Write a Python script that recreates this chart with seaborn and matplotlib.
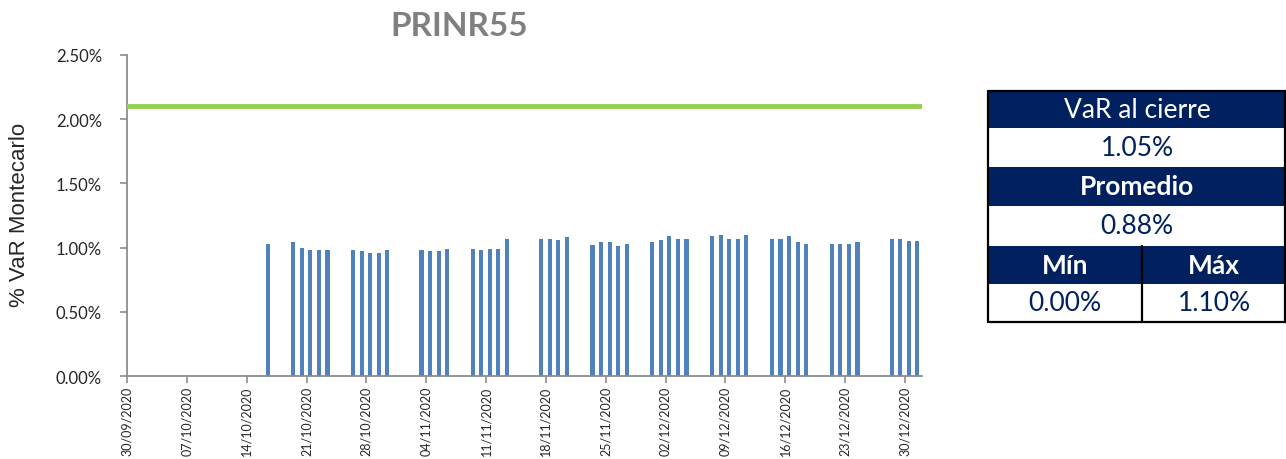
import matplotlib
matplotlib.use("Agg")
import matplotlib.pyplot as plt
from matplotlib.patches import Rectangle
from matplotlib.lines import Line2D
import matplotlib.dates as mdates
import seaborn as sns
import pandas as pd
from datetime import datetime

# ---------------- data ----------------
dates = [
    "30/09/2020", "01/10/2020", "02/10/2020", "05/10/2020", "06/10/2020", "07/10/2020",
    "08/10/2020", "09/10/2020", "12/10/2020", "13/10/2020", "14/10/2020", "15/10/2020",
    "16/10/2020",
    "19/10/2020", "20/10/2020", "21/10/2020", "22/10/2020", "23/10/2020",
    "26/10/2020", "27/10/2020", "28/10/2020", "29/10/2020", "30/10/2020",
    "03/11/2020", "04/11/2020", "05/11/2020", "06/11/2020",
    "09/11/2020", "10/11/2020", "11/11/2020", "12/11/2020", "13/11/2020",
    "17/11/2020", "18/11/2020", "19/11/2020", "20/11/2020",
    "23/11/2020", "24/11/2020", "25/11/2020", "26/11/2020", "27/11/2020",
    "30/11/2020", "01/12/2020", "02/12/2020", "03/12/2020", "04/12/2020",
    "07/12/2020", "08/12/2020", "09/12/2020", "10/12/2020", "11/12/2020",
    "14/12/2020", "15/12/2020", "16/12/2020", "17/12/2020", "18/12/2020",
    "21/12/2020", "22/12/2020", "23/12/2020", "24/12/2020",
    "28/12/2020", "29/12/2020", "30/12/2020", "31/12/2020",
]
var_pct = [
    0, 0, 0, 0, 0, 0,
    0, 0, 0, 0, 0, 0,
    1.03,
    1.04, 1.00, 0.98, 0.98, 0.98,
    0.98, 0.97, 0.96, 0.96, 0.98,
    0.98, 0.97, 0.97, 0.99,
    0.99, 0.98, 0.99, 0.99, 1.07,
    1.07, 1.07, 1.06, 1.08,
    1.02, 1.04, 1.04, 1.01, 1.03,
    1.04, 1.06, 1.09, 1.07, 1.07,
    1.09, 1.10, 1.07, 1.07, 1.10,
    1.07, 1.07, 1.09, 1.04, 1.03,
    1.03, 1.03, 1.03, 1.04,
    1.07, 1.07, 1.05, 1.05,
]
limit_pct = 2.10
x_tick_labels = [
    "30/09/2020", "07/10/2020", "14/10/2020", "21/10/2020", "28/10/2020",
    "04/11/2020", "11/11/2020", "18/11/2020", "25/11/2020", "02/12/2020",
    "09/12/2020", "16/12/2020", "23/12/2020", "30/12/2020",
]
x_end = "01/01/2021"
y_ticks = [0.0, 0.5, 1.0, 1.5, 2.0, 2.5]
title = "PRINR55"
y_label = "% VaR Montecarlo"

tbl_header_close = "VaR al cierre"
tbl_value_close = "1.05%"
tbl_header_avg = "Promedio"
tbl_value_avg = "0.88%"
tbl_header_min = "Mín"
tbl_header_max = "Máx"
tbl_value_min = "0.00%"
tbl_value_max = "1.10%"

# ---------------- style ----------------
W, H = 1286, 460
sns.set_theme(style="white")
plt.rcParams["font.family"] = ["Lato", "DejaVu Sans"]

BAR_COLOR = "#4F81BD"
LIMIT_COLOR = "#92D050"
NAVY = "#002060"
AXIS_GRAY = "#8C8C8C"
TEXT_DARK = "#262626"
BAR_OFFSET = 0.45  # bars sit between tick marks (date-axis style)


def to_num(s):
    return mdates.date2num(datetime.strptime(s, "%d/%m/%Y"))


df = pd.DataFrame({"x": [to_num(d) + BAR_OFFSET for d in dates], "var": var_pct})

fig = plt.figure(figsize=(W / 100, H / 100), dpi=100)
ax = fig.add_axes([127 / W, 1 - 377 / H, (922 - 127) / W, (377 - 56) / H])

sns.barplot(data=df, x="x", y="var", native_scale=True, width=0.48,
            color=BAR_COLOR, saturation=1, errorbar=None, linewidth=0, ax=ax)
ax.axhline(limit_pct, color=LIMIT_COLOR, lw=3.5, zorder=3)

ax.set_xlim(to_num(x_tick_labels[0]), to_num(x_end))
ax.set_ylim(y_ticks[0], y_ticks[-1])
ax.set_xticks([to_num(t) for t in x_tick_labels])
ax.set_xticklabels(x_tick_labels, rotation=90, fontsize=9, color=TEXT_DARK)
ax.set_yticks(y_ticks)
ax.set_yticklabels([f"{v:.2f}%" for v in y_ticks], fontsize=12, color=TEXT_DARK)
ax.set_xlabel("")
ax.set_ylabel("")
ax.grid(False)
for side in ["top", "right"]:
    ax.spines[side].set_visible(False)
for side in ["left", "bottom"]:
    ax.spines[side].set_color(AXIS_GRAY)
    ax.spines[side].set_linewidth(1.3)
ax.tick_params(axis="both", which="major", direction="out", length=5, width=1.2,
               color=AXIS_GRAY, pad=2, bottom=True, left=True)
ax.tick_params(axis="y", pad=13)

fig.text(459 / W, 1 - 26 / H, title, ha="center", va="center", fontsize=24,
         fontweight="bold", color="#808080")
fig.text(20 / W, 1 - 215 / H, y_label, ha="center", va="center", rotation=90,
         fontsize=16, color=TEXT_DARK, family=["Liberation Sans", "DejaVu Sans"])

# ---------------- summary table ----------------
def fx(x):
    return x / W


def fy(y):
    return 1 - y / H


def cell(x0, x1, y0, y1, fill, text, tcolor, bold=False):
    fig.patches.append(Rectangle((fx(x0), fy(y1)), fx(x1) - fx(x0), fy(y0) - fy(y1),
                                 transform=fig.transFigure, facecolor=fill,
                                 edgecolor="none", zorder=1))
    fig.text(fx((x0 + x1) / 2), fy((y0 + y1) / 2), text, ha="center", va="center",
             fontsize=19, color=tcolor, fontweight="bold" if bold else "normal",
             zorder=3)


L, M, R = 988, 1142, 1286
cell(L, R, 92, 129, NAVY, tbl_header_close, "white")
cell(L, R, 129, 168, "white", tbl_value_close, NAVY)
cell(L, R, 168, 207, NAVY, tbl_header_avg, "white", bold=True)
cell(L, R, 207, 246, "white", tbl_value_avg, NAVY)
cell(L, M, 247, 285, NAVY, tbl_header_min, "white", bold=True)
cell(M, R, 247, 285, NAVY, tbl_header_max, "white", bold=True)
cell(L, M, 285, 323, "white", tbl_value_min, NAVY)
cell(M, R, 285, 323, "white", tbl_value_max, NAVY)


def line(x0, y0, x1, y1):
    fig.lines.append(Line2D([fx(x0), fx(x1)], [fy(y0), fy(y1)], transform=fig.transFigure,
                            color="black", lw=1.6, zorder=4))


line(L, 92, L, 323)
line(L, 92, R, 92)
line(L, 323, R, 323)
line(M, 247, M, 323)
line(R - 1, 92, R - 1, 323)

fig.savefig("out.png", dpi=100)
